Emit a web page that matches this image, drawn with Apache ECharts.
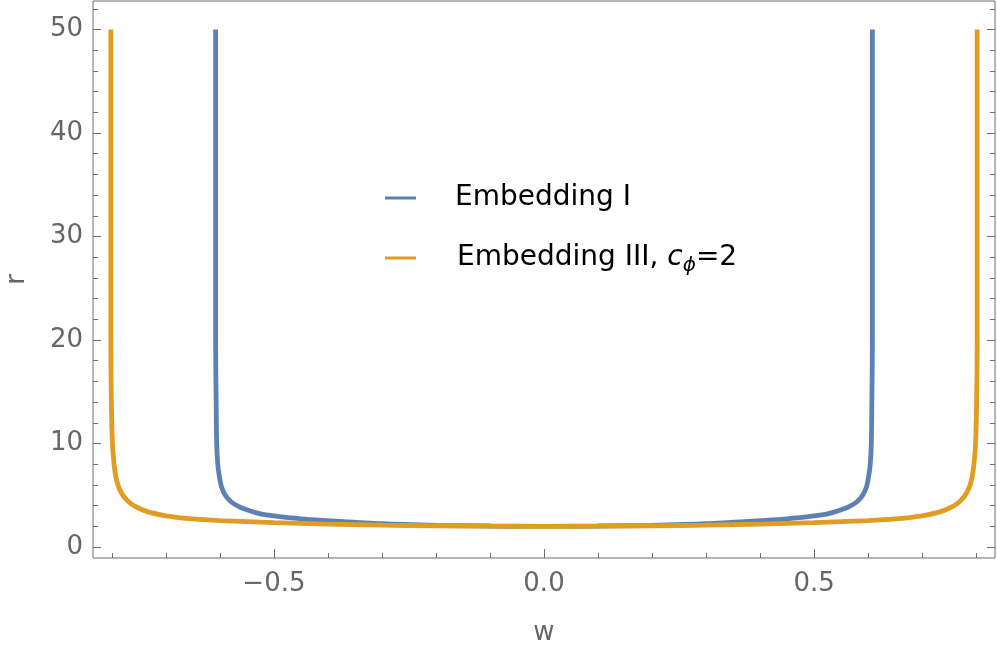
<!DOCTYPE html>
<html><head><meta charset="utf-8">
<script src="https://cdn.jsdelivr.net/npm/echarts@6/dist/echarts.min.js"></script>
<style>html,body{margin:0;padding:0;background:#fff}#c{width:997px;height:651px}</style>
</head><body><div id="c"></div>
<script>
// Data
var blueW = [-0.608,-0.608,-0.608,-0.608,-0.607,-0.606,-0.604,-0.601,-0.597,-0.59,-0.58,-0.565,-0.545,-0.525,-0.5,-0.45,-0.4,-0.3,-0.2,-0.1,0.0,0.1,0.2,0.3,0.4,0.45,0.5,0.525,0.545,0.565,0.58,0.59,0.597,0.601,0.604,0.606,0.607,0.608,0.608,0.608,0.608];
var blueR = [50,40,30,20,14,10,8.0,6.8,5.8,5.0,4.4,3.9,3.5,3.2,3.0,2.72,2.55,2.25,2.10,2.03,2.00,2.03,2.10,2.25,2.55,2.72,3.0,3.2,3.5,3.9,4.4,5.0,5.8,6.8,8.0,10,14,20,30,40,50];
var orangeW = [-0.802,-0.802,-0.802,-0.801,-0.799,-0.796,-0.792,-0.786,-0.777,-0.765,-0.75,-0.73,-0.7,-0.65,-0.6,-0.5,-0.4,-0.3,-0.2,-0.1,0.0,0.1,0.2,0.3,0.4,0.5,0.6,0.65,0.7,0.73,0.75,0.765,0.777,0.786,0.792,0.796,0.799,0.801,0.802,0.802,0.802];
var orangeR = [50,30,20,14,10,8,6.6,5.6,4.8,4.2,3.75,3.35,3.02,2.72,2.56,2.36,2.22,2.12,2.05,2.01,2.00,2.01,2.05,2.12,2.22,2.36,2.56,2.72,3.02,3.35,3.75,4.2,4.8,5.6,6.6,8,10,14,20,30,50];
var seriesNames = ['Embedding I', 'Embedding III, c_phi=2'];
var xLabelTicks = [-0.5, 0, 0.5];
var xMinorTicks = [-0.8,-0.7,-0.6,-0.4,-0.3,-0.2,-0.1,0.1,0.2,0.3,0.4,0.6,0.7,0.8];
var yLabelTicks = [0, 10, 20, 30, 40, 50];
var yMinorTicks = [2,4,6,8,12,14,16,18,22,24,26,28,32,34,36,38,42,44,46,48,52];

function zip(a, b) { return a.map(function (v, i) { return [v, b[i]]; }); }

var GRAY = '#666666';
var FRAME = '#6e6e6e';
var FONT = 'DejaVu Sans';
var XMIN = -0.835, XMAX = 0.835, YMIN = -1.06, YMAX = 52.75;

function xAx(ticks, len, labels) {
  return {
    type: 'value', min: XMIN, max: XMAX, position: 'bottom',
    axisLine: { show: false, onZero: false },
    splitLine: { show: false },
    axisTick: { show: true, inside: true, length: len, customValues: ticks, lineStyle: { color: FRAME, width: 1 } },
    axisLabel: labels ? {
      show: true, customValues: ticks, margin: 13, color: GRAY, fontSize: 26, fontFamily: FONT,
      formatter: function (v) { return (v < 0 ? '\u2212' : '') + Math.abs(v).toFixed(1); }
    } : { show: false }
  };
}
function yAx(ticks, len, labels, pos) {
  return {
    type: 'value', min: YMIN, max: YMAX, position: pos,
    axisLine: { show: false, onZero: false },
    splitLine: { show: false },
    axisTick: { show: true, inside: true, length: len, customValues: ticks, lineStyle: { color: FRAME, width: 1 } },
    axisLabel: labels ? {
      show: true, customValues: ticks, margin: 10, color: GRAY, fontSize: 26, fontFamily: FONT
    } : { show: false }
  };
}

var xMain = xAx(xLabelTicks, 9, true);
xMain.name = 'w';
xMain.nameLocation = 'middle';
xMain.nameGap = 62;
xMain.nameTextStyle = { color: GRAY, fontSize: 26, fontFamily: FONT };
var yMain = yAx(yLabelTicks, 8, true, 'left');
yMain.name = 'r';
yMain.nameLocation = 'middle';
yMain.nameGap = 63;
yMain.nameTextStyle = { color: GRAY, fontSize: 26, fontFamily: FONT };

var chart = echarts.init(document.getElementById('c'), null, { renderer: 'canvas' });
chart.setOption({
  animation: false,
  backgroundColor: '#ffffff',
  grid: { left: 93, right: 2, top: 1, bottom: 93, show: true, borderColor: FRAME, borderWidth: 1, backgroundColor: 'transparent', containLabel: false, outerBoundsMode: 'none' },
  xAxis: [xMain, xAx(xMinorTicks, 5, false)],
  yAxis: [yMain, yAx(yMinorTicks, 5, false, 'left'), yAx(yLabelTicks, 8, false, 'right'), yAx(yMinorTicks, 5, false, 'right')],
  legend: [
    {
      data: [seriesNames[0]], left: 380, top: 179, orient: 'vertical',
      icon: 'rect', itemWidth: 31, itemHeight: 3,
      textStyle: { color: '#000', fontSize: 28, fontFamily: FONT, padding: [0, 0, 0, 34] }
    },
    {
      data: [seriesNames[1]], left: 380, top: 239, orient: 'vertical',
      icon: 'rect', itemWidth: 31, itemHeight: 3,
      formatter: function () { return 'Embedding III, {i|c}{s|\u03d5}=2'; },
      textStyle: {
        color: '#000', fontSize: 28, fontFamily: FONT, padding: [0, 0, 0, 36],
        rich: {
          i: { fontStyle: 'italic', fontSize: 28, fontFamily: FONT, color: '#000' },
          s: { fontStyle: 'italic', fontSize: 20, fontFamily: FONT, color: '#000', verticalAlign: 'bottom', padding: [16, 0, 0, 0] }
        }
      }
    }
  ],
  series: [
    {
      name: seriesNames[0], type: 'line', data: zip(blueW, blueR), showSymbol: false, smooth: 0.3,
      xAxisIndex: 0, yAxisIndex: 0, color: '#5E81B5',
      lineStyle: { width: 4.8, color: '#5E81B5' }, clip: true
    },
    {
      name: seriesNames[1], type: 'line', data: zip(orangeW, orangeR), showSymbol: false, smooth: 0.3,
      xAxisIndex: 0, yAxisIndex: 0, color: '#E19C24',
      lineStyle: { width: 4.8, color: '#E19C24' }, clip: true
    }
  ]
});
</script>
</body></html>
